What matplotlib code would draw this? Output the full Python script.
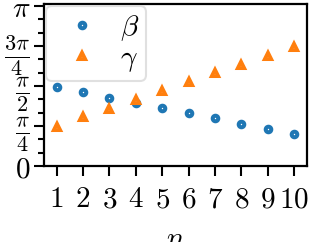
import numpy as np
import matplotlib
matplotlib.use("Agg")
import matplotlib.pyplot as plt
from matplotlib.ticker import MultipleLocator
from matplotlib.transforms import ScaledTranslation

plt.rcParams['mathtext.fontset'] = 'cm'
plt.rcParams['font.family'] = 'serif'
plt.rcParams['font.serif'] = ['DejaVu Serif']

n = list(range(1, 11))
beta = [1.552, 1.448, 1.342, 1.238, 1.140, 1.035, 0.937, 0.831, 0.727, 0.622]
gamma = [0.772, 0.956, 1.114, 1.297, 1.473, 1.644, 1.820, 1.990, 2.161, 2.344]
ytick_labels = [r'$0$', r'$\frac{\pi}{4}$', r'$\frac{\pi}{2}$', r'$\frac{3\pi}{4}$', r'$\pi$']

fig = plt.figure(figsize=(3.10, 2.42), dpi=100)
ax = fig.add_axes([0.142, 0.314, 0.848, 0.669])

ax.plot(n, beta, ls='none', marker='o', ms=4.0, mew=2.9, mfc='white', mec='#1f77b4', label=r'$\beta$')
ax.plot(n, gamma, ls='none', marker='^', ms=5.0, mew=2.9, mfc='white', mec='#ff7f0e', label=r'$\gamma$')

ax.set_xlim(0.52, 10.49)
ax.set_ylim(0, 3.18)
ax.set_xticks(n)
ax.set_xticklabels([rf'${v}$' for v in n])
ax.set_yticks(np.arange(5) * np.pi / 4)
ax.set_yticklabels(ytick_labels)
ax.yaxis.set_minor_locator(MultipleLocator(np.pi / 12))
ax.tick_params(axis='both', which='major', labelsize=21, length=7, width=1.5)
ax.tick_params(axis='x', pad=7)
ax.tick_params(axis='y', which='minor', length=4, width=1.5)
ax.tick_params(axis='y', pad=3)
shift = ScaledTranslation(0, -1.5 / 72, fig.dpi_scale_trans)
for tick in ax.yaxis.get_major_ticks():
    lbl = tick.label1
    if 'frac' in lbl.get_text():
        lbl.set_fontsize(23)
        lbl.set_transform(lbl.get_transform() + shift)
for s in ax.spines.values():
    s.set_linewidth(1.6)
ax.set_xlabel(r'$n$', fontsize=21, labelpad=8)

leg = ax.legend(loc='upper left', fontsize=21, handletextpad=0.3, borderpad=0.22,
                labelspacing=0.05, borderaxespad=0.08, frameon=True, fancybox=True)
leg.get_frame().set_edgecolor('0.85')
leg.get_frame().set_linewidth(1.5)

fig.savefig('out.png', dpi=100)
